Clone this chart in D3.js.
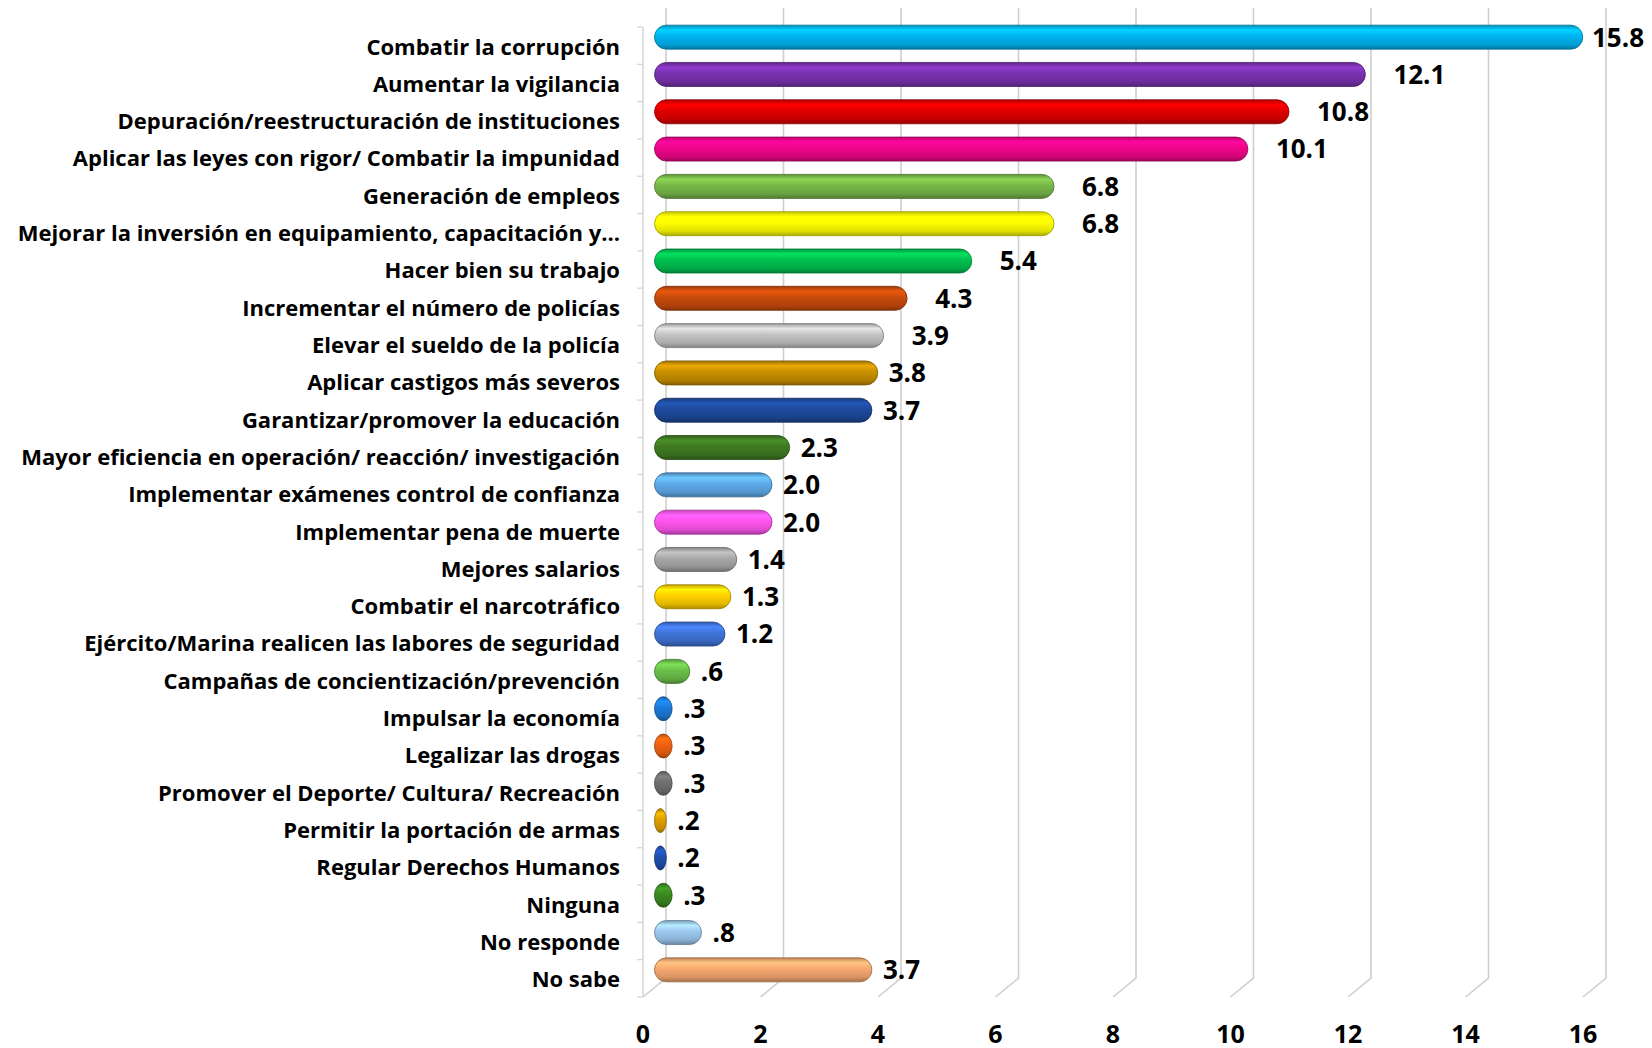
<!DOCTYPE html>
<html>
<head>
<meta charset="utf-8">
<script src="https://cdn.jsdelivr.net/npm/d3@7"></script>
<style>
  body { margin: 0; background: #fff; }
  text { font-family: "Open Sans", Lato, sans-serif; font-weight: 700; fill: #000; }
</style>
</head>
<body>
<svg id="chart" width="1652" height="1048"></svg>
<script>
// categories, top to bottom
var categories = [
  "Combatir la corrupción",
  "Aumentar la vigilancia",
  "Depuración/reestructuración de instituciones",
  "Aplicar las leyes con rigor/ Combatir la impunidad",
  "Generación de empleos",
  "Mejorar la inversión en equipamiento, capacitación y...",
  "Hacer bien su trabajo",
  "Incrementar el número de policías",
  "Elevar el sueldo de la policía",
  "Aplicar castigos más severos",
  "Garantizar/promover la educación",
  "Mayor eficiencia en operación/ reacción/ investigación",
  "Implementar exámenes control de confianza",
  "Implementar pena de muerte",
  "Mejores salarios",
  "Combatir el narcotráfico",
  "Ejército/Marina realicen las labores de seguridad",
  "Campañas de concientización/prevención",
  "Impulsar la economía",
  "Legalizar las drogas",
  "Promover el Deporte/ Cultura/ Recreación",
  "Permitir la portación de armas",
  "Regular Derechos Humanos",
  "Ninguna",
  "No responde",
  "No sabe"
];
var values = [15.8, 12.1, 10.8, 10.1, 6.8, 6.8, 5.4, 4.3, 3.9, 3.8, 3.7, 2.3, 2.0, 2.0,
              1.4, 1.3, 1.2, 0.6, 0.3, 0.3, 0.3, 0.2, 0.2, 0.3, 0.8, 3.7];
var colors = ["#00b4f0", "#7a32b0", "#e00000", "#f0068a", "#78b848", "#ffff00", "#00c050",
              "#c84b0c", "#c4c4c4", "#c89000", "#1e4a9c", "#3f7a22", "#5eaaea", "#ff55ee",
              "#a8a8a8", "#ffd000", "#3f74d8", "#6cc04a", "#1a7ad8", "#f06010", "#707070",
              "#e0a000", "#2050b0", "#3a8a20", "#9cc8f0", "#f8a870"];
var xTicks = [0, 2, 4, 6, 8, 10, 12, 14, 16];

var svg = d3.select("#chart"),
    x0 = 643,            // front plane zero
    depth = {dx: 23, dy: -19},
    plotTop = 27, plotBottom = 997;

var x = d3.scaleLinear().domain([0, 16]).range([0, 940]);
var y = d3.scaleBand().domain(categories).range([plotTop, plotBottom]);

var fmt = function(v) { return d3.format(".1f")(v).replace(/^0\./, "."); };

// gridlines: back wall + floor diagonal
var grid = svg.append("g").attr("class", "grid");
grid.selectAll("path.gl")
  .data(xTicks)
  .enter().append("path")
    .attr("class", "gl")
    .attr("fill", "none")
    .attr("stroke", "#cfcfcf")
    .attr("stroke-width", 1.6)
    .attr("d", function(t) {
      var bx = x0 + depth.dx + x(t);
      return "M" + bx + "," + (plotTop + depth.dy) + "L" + bx + "," + (plotBottom + depth.dy) +
             "L" + (x0 + x(t)) + "," + plotBottom;
    });

// left wall front edge and category ticks
grid.append("line")
  .attr("x1", x0).attr("x2", x0)
  .attr("y1", plotTop).attr("y2", plotBottom)
  .attr("stroke", "#d4d4d4").attr("stroke-width", 1.5);

grid.selectAll("line.tk")
  .data(categories.concat(["end"]))
  .enter().append("line")
    .attr("class", "tk")
    .attr("x1", x0 - 6).attr("x2", x0)
    .attr("y1", function(d, i) { return plotTop + i * y.step(); })
    .attr("y2", function(d, i) { return plotTop + i * y.step(); })
    .attr("stroke", "#d4d4d4").attr("stroke-width", 1.2);

// gradients for cylinder look
var defs = svg.append("defs");
colors.forEach(function(c, i) {
  var base = d3.color(c);
  var gr = defs.append("linearGradient")
    .attr("id", "g" + i)
    .attr("x1", 0).attr("y1", 0).attr("x2", 0).attr("y2", 1);
  [[0, base.darker(0.7)], [0.2, base.brighter(0.45)], [0.45, base], [0.8, base.darker(0.35)], [1, base.darker(1.1)]]
    .forEach(function(s) {
      gr.append("stop").attr("offset", s[0]).attr("stop-color", s[1].formatHex());
    });
});

// bars sit half way in depth
var mid = {dx: depth.dx / 2, dy: depth.dy / 2 + 1};
var barH = 24;

var bars = svg.append("g").attr("class", "bars");
bars.selectAll("rect")
  .data(values)
  .enter().append("rect")
    .attr("x", x0 + mid.dx)
    .attr("y", function(d, i) { return y(categories[i]) + y.bandwidth() / 2 + mid.dy - barH / 2; })
    .attr("width", function(d) { return Math.max(x(d), 11); })
    .attr("height", barH)
    .attr("rx", function(d) { return Math.min(Math.max(x(d), 11) / 2, barH / 2); })
    .attr("ry", barH / 2)
    .attr("fill", function(d, i) { return "url(#g" + i + ")"; })
    .attr("stroke", function(d, i) { return d3.color(colors[i]).darker(1.4).formatHex(); })
    .attr("stroke-width", 0.8);

// value labels
svg.append("g").attr("class", "values")
  .selectAll("text")
  .data(values)
  .enter().append("text")
    .attr("x", function(d) {
      var gap = d >= 3.9 ? 28 : 11;
      return Math.min(x0 + mid.dx + Math.max(x(d), 11) + gap, 1592);
    })
    .attr("y", function(d, i) { return y(categories[i]) + y.bandwidth() / 2 + mid.dy; })
    .attr("dy", "0.36em")
    .attr("font-size", 26)
    .text(fmt);

// category labels
svg.append("g").attr("class", "cats")
  .selectAll("text")
  .data(categories)
  .enter().append("text")
    .attr("x", 620)
    .attr("y", function(d) { return y(d) + y.bandwidth() / 2 + 1; })
    .attr("dy", "0.36em")
    .attr("text-anchor", "end")
    .attr("font-size", 22)
    .text(function(d) { return d; });

// x axis tick labels
svg.append("g").attr("class", "xaxis")
  .selectAll("text")
  .data(xTicks)
  .enter().append("text")
    .attr("x", function(t) { return x0 + x(t); })
    .attr("y", 1034)
    .attr("dy", "0.36em")
    .attr("text-anchor", "middle")
    .attr("font-size", 25)
    .text(function(t) { return t; });
</script>
</body>
</html>
